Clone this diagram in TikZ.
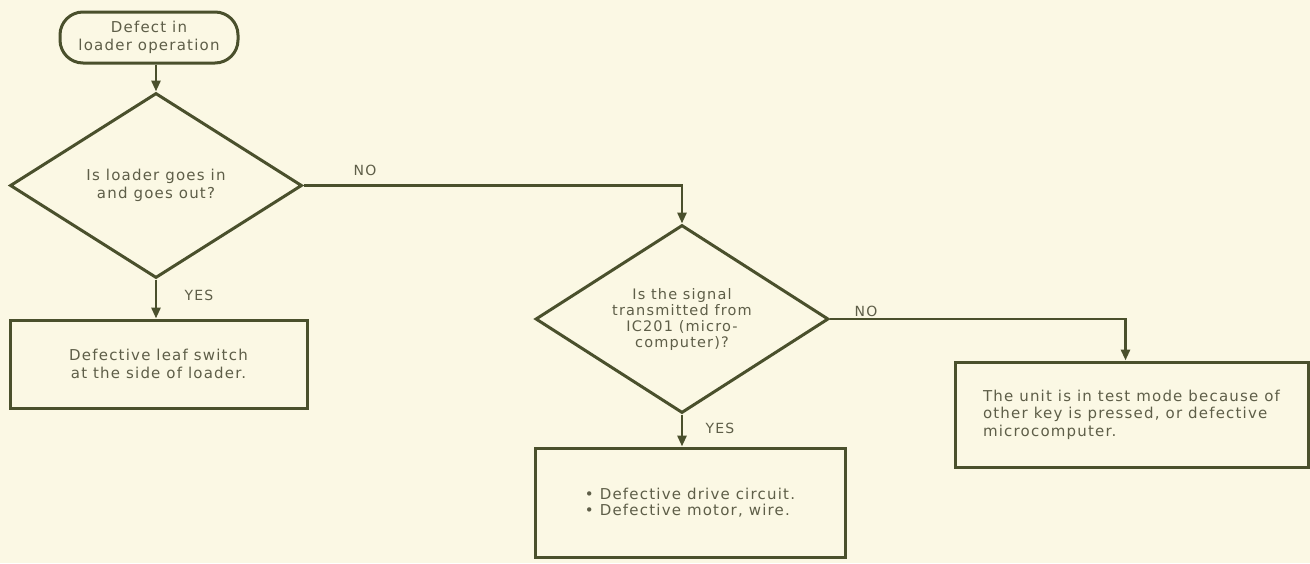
\documentclass[tikz,border=0pt]{standalone}
\usepackage{fontspec}
\setmainfont{DejaVu Sans}[LetterSpace=8]
\usetikzlibrary{shapes.geometric,arrows.meta,calc}
\definecolor{bgc}{HTML}{FBF8E4}
\definecolor{linec}{HTML}{4A502C}
\definecolor{textc}{HTML}{5E5E48}
\begin{document}
\begin{tikzpicture}[x=1pt,y=-1pt,
  every node/.style={text=textc,font=\fontsize{15}{17.5}\selectfont},
  conn/.style={draw=linec,line width=2.8pt},
  arr/.style={conn,-{Triangle[length=11pt,width=9pt]}},
  decision/.style={diamond,aspect=1.56,draw=linec,line width=3pt,inner sep=0pt,align=center},
  boxnode/.style={rectangle,draw=linec,line width=3pt,inner sep=0pt},
  lbl/.style={inner sep=0pt,font=\fontsize{14}{15}\selectfont}]
\fill[bgc] (0,0) rectangle (1310,563);
\useasboundingbox (0,0) rectangle (1310,563);

\node[draw=linec,line width=3pt,rounded corners=23pt,minimum width=178pt,minimum height=51pt,inner sep=0pt,align=center] (start) at (149,37.5) {Defect in\\loader operation};

\node[decision,minimum width=292pt,minimum height=185pt] (d1) at (156,185.5) {Is loader goes in\\and goes out?};

\node[boxnode,minimum width=297pt,minimum height=88pt,align=center] (b1) at (158.5,364) {Defective leaf switch\\at the side of loader.};

\node[decision,minimum width=293pt,minimum height=188pt,font=\fontsize{14.5}{16}\selectfont] (d2) at (682,319) {Is the signal\\transmitted from\\IC201 (micro-\\computer)?};

\node[boxnode,minimum width=310pt,minimum height=109pt,align=left,font=\fontsize{15}{15.5}\selectfont] (b2) at (690,502.5) {• Defective drive circuit.\\• Defective motor, wire.};

\node[boxnode,minimum width=353pt,minimum height=105pt,align=left] (b3) at (1131.5,414.5) {The unit is in test mode because of\\other key is pressed, or defective\\microcomputer.};

\draw[arr] (start.south -| d1.north) -- (d1.north);
\draw[arr] (d1.south) -- (d1.south |- b1.north);
\draw[arr] (d1.east) -| (d2.north);
\draw[arr] (d2.south) -- (d2.south |- b2.north);
\draw[arr] (d2.east) -| ($(b3.north)+(-6,0)$);

\node[lbl] (yes1) at (199,295) {YES};
\node[lbl] (no1) at (365,170) {NO};
\node[lbl] (no2) at (866,311) {NO};
\node[lbl] (yes2) at (720,428) {YES};
\end{tikzpicture}
\end{document}
